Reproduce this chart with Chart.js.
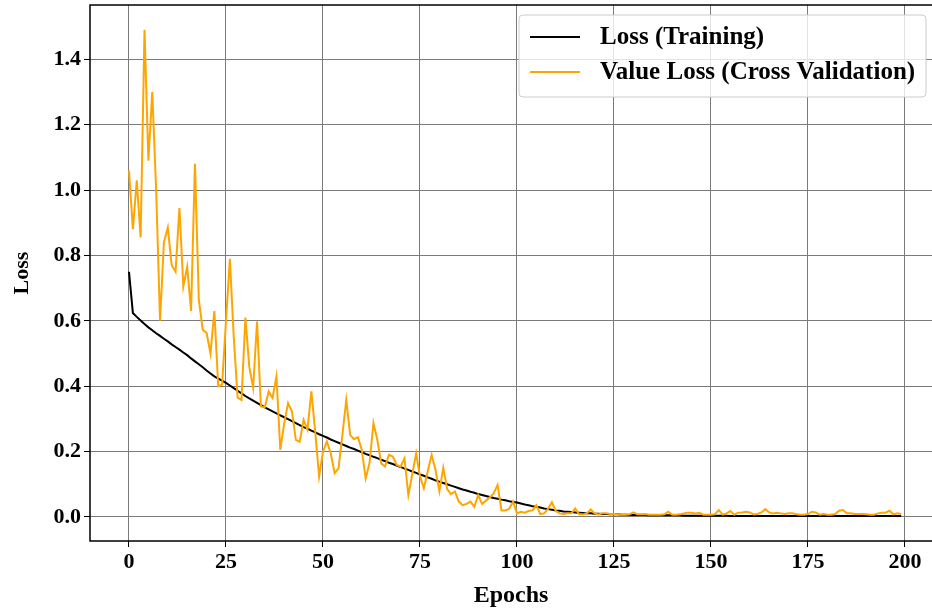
<!DOCTYPE html>
<html>
<head>
<meta charset="utf-8">
<title>Loss per epoch</title>
<script src="https://cdn.jsdelivr.net/npm/chart.js@4/dist/chart.umd.min.js"></script>
<style>
  html, body { margin: 0; padding: 0; background: #fff; }
  #wrap { width: 932px; height: 611px; }
</style>
</head>
<body>
<div id="wrap"><canvas id="lossChart" width="932" height="611"></canvas></div>
<script>
// training loss, one value per epoch (0..199)
const trainLoss = [
  0.750, 0.624, 0.612, 0.601, 0.590, 0.580, 0.571, 0.562, 0.554, 0.545,
  0.537, 0.528, 0.520, 0.512, 0.503, 0.495, 0.485, 0.476, 0.467, 0.458,
  0.448, 0.439, 0.430, 0.423, 0.417, 0.410, 0.402, 0.394, 0.386, 0.378,
  0.370, 0.363, 0.356, 0.349, 0.342, 0.335, 0.329, 0.323, 0.317, 0.311,
  0.305, 0.299, 0.293, 0.287, 0.281, 0.275, 0.270, 0.264, 0.259, 0.253,
  0.248, 0.243, 0.237, 0.232, 0.227, 0.222, 0.217, 0.212, 0.208, 0.203,
  0.198, 0.193, 0.189, 0.184, 0.180, 0.175, 0.171, 0.166, 0.162, 0.157,
  0.153, 0.148, 0.144, 0.139, 0.135, 0.130, 0.126, 0.121, 0.117, 0.112,
  0.108, 0.104, 0.100, 0.096, 0.092, 0.088, 0.084, 0.081, 0.077, 0.074,
  0.070, 0.067, 0.064, 0.061, 0.058, 0.056, 0.053, 0.051, 0.048, 0.046,
  0.044, 0.041, 0.038, 0.036, 0.033, 0.031, 0.029, 0.026, 0.024, 0.022,
  0.020, 0.019, 0.017, 0.016, 0.015, 0.014, 0.013, 0.012, 0.011, 0.011,
  0.010, 0.010, 0.009, 0.009, 0.008, 0.008, 0.008, 0.007, 0.007, 0.006,
  0.006, 0.006, 0.006, 0.006, 0.005, 0.005, 0.005, 0.005, 0.005, 0.005,
  0.005, 0.005, 0.005, 0.004, 0.004, 0.004, 0.004, 0.004, 0.004, 0.004,
  0.004, 0.004, 0.004, 0.004, 0.004, 0.003, 0.003, 0.003, 0.003, 0.003,
  0.003, 0.003, 0.003, 0.003, 0.003, 0.003, 0.003, 0.003, 0.003, 0.003,
  0.003, 0.003, 0.003, 0.003, 0.003, 0.003, 0.003, 0.003, 0.003, 0.003,
  0.003, 0.003, 0.003, 0.003, 0.003, 0.003, 0.003, 0.003, 0.003, 0.003,
  0.003, 0.003, 0.003, 0.003, 0.003, 0.003, 0.003, 0.003, 0.003, 0.003
];

// validation loss, one value per epoch (0..199)
const valLoss = [
  1.060, 0.880, 1.030, 0.855, 1.490, 1.090, 1.300, 1.000, 0.600, 0.840,
  0.885, 0.770, 0.750, 0.945, 0.705, 0.765, 0.630, 1.080, 0.665, 0.573,
  0.563, 0.500, 0.630, 0.400, 0.405, 0.600, 0.790, 0.550, 0.365, 0.358,
  0.610, 0.460, 0.395, 0.598, 0.338, 0.335, 0.384, 0.364, 0.430, 0.205,
  0.286, 0.348, 0.323, 0.236, 0.230, 0.297, 0.267, 0.384, 0.260, 0.124,
  0.200, 0.231, 0.195, 0.134, 0.149, 0.251, 0.358, 0.251, 0.238, 0.244,
  0.205, 0.118, 0.165, 0.287, 0.236, 0.164, 0.154, 0.190, 0.185, 0.159,
  0.154, 0.180, 0.067, 0.130, 0.195, 0.124, 0.088, 0.140, 0.190, 0.144,
  0.078, 0.150, 0.085, 0.070, 0.078, 0.047, 0.036, 0.040, 0.047, 0.031,
  0.067, 0.040, 0.050, 0.060, 0.072, 0.098, 0.020, 0.020, 0.025, 0.047,
  0.011, 0.016, 0.013, 0.018, 0.020, 0.036, 0.009, 0.011, 0.025, 0.045,
  0.018, 0.011, 0.009, 0.011, 0.011, 0.026, 0.008, 0.008, 0.011, 0.023,
  0.011, 0.008, 0.011, 0.011, 0.009, 0.009, 0.008, 0.007, 0.007, 0.008,
  0.014, 0.008, 0.008, 0.009, 0.007, 0.007, 0.007, 0.007, 0.008, 0.016,
  0.007, 0.007, 0.008, 0.011, 0.013, 0.013, 0.011, 0.013, 0.007, 0.007,
  0.007, 0.008, 0.021, 0.007, 0.011, 0.018, 0.007, 0.013, 0.014, 0.016,
  0.014, 0.008, 0.009, 0.014, 0.024, 0.014, 0.011, 0.013, 0.011, 0.009,
  0.011, 0.011, 0.008, 0.007, 0.007, 0.009, 0.016, 0.014, 0.007, 0.009,
  0.007, 0.007, 0.009, 0.019, 0.021, 0.011, 0.011, 0.009, 0.009, 0.009,
  0.008, 0.007, 0.007, 0.011, 0.013, 0.013, 0.019, 0.008, 0.011, 0.009
];

const epochs = trainLoss.map((_, i) => i);
const xTicks = [0, 25, 50, 75, 100, 125, 150, 175, 200];
const yTicks = [0.0, 0.2, 0.4, 0.6, 0.8, 1.0, 1.2, 1.4];
const seriesNames = ['Loss (Training)', 'Value Loss (Cross Validation)'];

const serif = '"Liberation Serif", "Times New Roman", serif';

// left/top/bottom spines plus a boxed legend in the upper right corner
const frameLegend = {
  id: 'frameLegend',
  afterDraw(chart) {
    const { ctx, chartArea: a } = chart;
    ctx.save();
    ctx.strokeStyle = '#000';
    ctx.lineWidth = 1.5;
    ctx.beginPath();
    ctx.moveTo(a.right, a.top);
    ctx.lineTo(a.left, a.top);
    ctx.lineTo(a.left, a.bottom);
    ctx.lineTo(a.right, a.bottom);
    ctx.stroke();

    const bx = 519, by = 15, bw = 407, bh = 82;
    ctx.beginPath();
    ctx.roundRect(bx, by, bw, bh, 4);
    ctx.fillStyle = 'rgba(255,255,255,0.8)';
    ctx.fill();
    ctx.strokeStyle = '#cccccc';
    ctx.lineWidth = 1;
    ctx.stroke();

    ctx.font = 'bold 25px ' + serif;
    ctx.textBaseline = 'middle';
    ctx.textAlign = 'left';
    const rows = [37, 72];
    chart.data.datasets.slice().sort((p, q) => p.legendIndex - q.legendIndex).forEach((ds, i) => {
      const y = rows[i];
      ctx.beginPath();
      ctx.moveTo(530, y);
      ctx.lineTo(580, y);
      ctx.strokeStyle = ds.borderColor;
      ctx.lineWidth = 2;
      ctx.stroke();
      ctx.fillStyle = '#000';
      ctx.fillText(ds.label, 600, y + 1);
    });
    ctx.restore();
  }
};

new Chart(document.getElementById('lossChart'), {
  type: 'line',
  data: {
    labels: epochs,
    datasets: [
      {
        label: seriesNames[1],
        legendIndex: 1,
        data: valLoss.map((v, i) => ({ x: epochs[i], y: v })),
        borderColor: '#FFA500',
        borderWidth: 2,
        pointRadius: 0,
        tension: 0,
        order: 0
      },
      {
        label: seriesNames[0],
        legendIndex: 0,
        data: trainLoss.map((v, i) => ({ x: epochs[i], y: v })),
        borderColor: '#000000',
        borderWidth: 2,
        pointRadius: 0,
        tension: 0,
        order: 1
      }
    ]
  },
  options: {
    responsive: false,
    animation: false,
    devicePixelRatio: 1,
    layout: { padding: { top: 5, right: 0, left: 0, bottom: 0 } },
    plugins: {
      legend: { display: false },
      tooltip: { enabled: false }
    },
    scales: {
      x: {
        type: 'linear',
        min: -10.05,
        max: 206.96,
        afterFit: s => { s.height = 70; s.paddingLeft = 0; s.paddingRight = 0; },
        afterBuildTicks: s => { s.ticks = xTicks.map(v => ({ value: v })); },
        grid: { color: '#7a7a7a', lineWidth: 1, tickColor: '#000', tickLength: 6 },
        border: { display: false },
        ticks: {
          autoSkip: false,
          maxRotation: 0,
          padding: 2,
          color: '#000',
          font: { family: serif, size: 22, weight: 'bold' },
          callback: v => String(v)
        },
        title: {
          display: true,
          text: 'Epochs',
          color: '#000',
          font: { family: serif, size: 24, weight: 'bold' },
          padding: { top: 0, bottom: 1 }
        }
      },
      y: {
        type: 'linear',
        min: -0.0735,
        max: 1.566,
        afterFit: s => { s.width = 90; s.paddingTop = 0; s.paddingBottom = 0; },
        afterBuildTicks: s => { s.ticks = yTicks.map(v => ({ value: v })); },
        grid: { color: '#7a7a7a', lineWidth: 1, tickColor: '#000', tickLength: 6 },
        border: { display: false },
        ticks: {
          padding: 3,
          color: '#000',
          font: { family: serif, size: 22, weight: 'bold' },
          callback: v => v.toFixed(1)
        },
        title: {
          display: true,
          text: 'Loss',
          color: '#000',
          font: { family: serif, size: 22, weight: 'bold' },
          padding: { top: 9, bottom: 0 }
        }
      }
    }
  },
  plugins: [frameLegend]
});
</script>
</body>
</html>
